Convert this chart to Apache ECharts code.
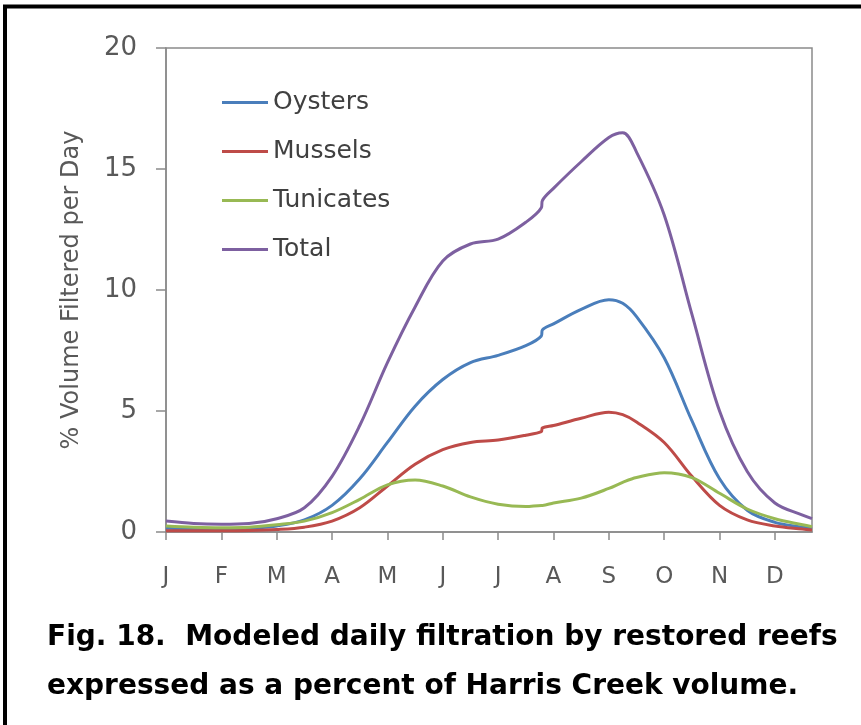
<!DOCTYPE html>
<html>
<head>
<meta charset="utf-8">
<script src="https://cdn.jsdelivr.net/npm/echarts@6/dist/echarts.min.js"></script>
<style>
  html, body { margin: 0; padding: 0; background: #fff; }
  #chart { width: 861px; height: 725px; }
</style>
</head>
<body>
<div id="chart"></div>
<script>
// x positions are in months from 1 Jan (J = 0, F = 1, ...)
var months = ['J', 'F', 'M', 'A', 'M', 'J', 'J', 'A', 'S', 'O', 'N', 'D']
var xPos = [0, 0.5, 1, 1.5, 2, 2.5, 3, 3.5, 4, 4.5, 5, 5.5, 6, 6.5, 6.78, 6.8, 7, 7.5, 8, 8.25, 8.5, 9, 9.5, 10, 10.5, 11, 11.5, 11.67]

var oysters   = [0.15, 0.12, 0.12, 0.15, 0.25, 0.5, 1.1, 2.2, 3.7, 5.2, 6.3, 7.0, 7.3, 7.7, 8.1, 8.35, 8.6, 9.2, 9.6, 9.45, 8.9, 7.2, 4.6, 2.2, 0.9, 0.4, 0.2, 0.15]
var mussels   = [0.05, 0.05, 0.05, 0.06, 0.1, 0.2, 0.45, 1.0, 1.9, 2.8, 3.4, 3.7, 3.8, 4.0, 4.15, 4.3, 4.4, 4.7, 4.95, 4.85, 4.55, 3.7, 2.3, 1.1, 0.5, 0.25, 0.12, 0.08]
var tunicates = [0.25, 0.2, 0.18, 0.2, 0.3, 0.45, 0.8, 1.35, 1.95, 2.15, 1.9, 1.45, 1.15, 1.05, 1.1, 1.1, 1.2, 1.4, 1.8, 2.05, 2.25, 2.45, 2.25, 1.6, 0.95, 0.55, 0.3, 0.22]
var total     = [0.45, 0.35, 0.32, 0.35, 0.55, 1.0, 2.3, 4.4, 7.0, 9.3, 11.2, 11.9, 12.1, 12.8, 13.4, 13.7, 14.2, 15.3, 16.3, 16.5, 15.7, 13.1, 9.0, 5.0, 2.5, 1.2, 0.7, 0.55]

var yTicks = [0, 5, 10, 15, 20]
var caption = ['Fig. 18.  Modeled daily filtration by restored reefs',
               'expressed as a percent of Harris Creek volume.']

var axisFont = 'DejaVu Sans'
var grey = '#595959'

function pairs(vals) {
  return vals.map(function (v, i) { return [xPos[i], v] })
}

function makeSeries(name, vals, color) {
  return {
    name: name,
    type: 'line',
    data: pairs(vals),
    smooth: 0.35,
    symbol: 'none',
    lineStyle: { color: color, width: 3 },
    itemStyle: { color: color }
  }
}

var myChart = echarts.init(document.getElementById('chart'))

var option = {
  animation: false,
  backgroundColor: '#fff',
  grid: {
    left: 166, right: 49, top: 48, bottom: 193,
    show: true, borderColor: '#8a8a8a', borderWidth: 1.5
  },
  legend: {
    orient: 'vertical',
    left: 217, top: 85,
    icon: 'rect',
    itemWidth: 46, itemHeight: 3,
    itemGap: 24,
    textStyle: { fontFamily: axisFont, fontSize: 25, color: '#404040', lineHeight: 25 },
    data: ['Oysters', 'Mussels', 'Tunicates', 'Total']
  },
  xAxis: {
    type: 'value',
    min: 0, max: 11.67, interval: 1,
    axisLine: { lineStyle: { color: '#8a8a8a', width: 1.5 } },
    axisTick: { show: true, length: 8, lineStyle: { color: '#8a8a8a', width: 1.5 } },
    splitLine: { show: false },
    axisLabel: {
      margin: 34, fontFamily: axisFont, fontSize: 23, color: grey,
      showMaxLabel: false,
      formatter: function (v) { return months[Math.round(v)] || '' }
    }
  },
  yAxis: {
    type: 'value',
    min: yTicks[0], max: yTicks[yTicks.length - 1], interval: 5,
    name: '% Volume Filtered per Day',
    nameLocation: 'middle',
    nameGap: 82,
    nameTextStyle: { fontFamily: axisFont, fontSize: 24, color: grey },
    axisLine: { show: true, lineStyle: { color: '#8a8a8a', width: 1.5 } },
    axisTick: { show: true, length: 10, lineStyle: { color: '#8a8a8a', width: 1.5 } },
    splitLine: { show: false },
    axisLabel: { margin: 29, fontFamily: axisFont, fontSize: 26, color: grey }
  },
  series: [
    makeSeries('Oysters', oysters, '#4a7ebb'),
    makeSeries('Mussels', mussels, '#be4b48'),
    makeSeries('Tunicates', tunicates, '#98b954'),
    makeSeries('Total', total, '#7d60a0')
  ],
  graphic: [
    { type: 'line', shape: { x1: 3, y1: 6.5, x2: 861, y2: 6.5 }, style: { stroke: '#000', lineWidth: 4 } },
    { type: 'line', shape: { x1: 5, y1: 5, x2: 5, y2: 725 }, style: { stroke: '#000', lineWidth: 4 } },
    {
      type: 'text', left: 47, top: 613,
      style: {
        text: caption.join('\n'),
        fontFamily: 'DejaVu Sans', fontWeight: 'bold', fontSize: 28,
        lineHeight: 49, fill: '#000'
      }
    }
  ]
}

myChart.setOption(option)
</script>
</body>
</html>
